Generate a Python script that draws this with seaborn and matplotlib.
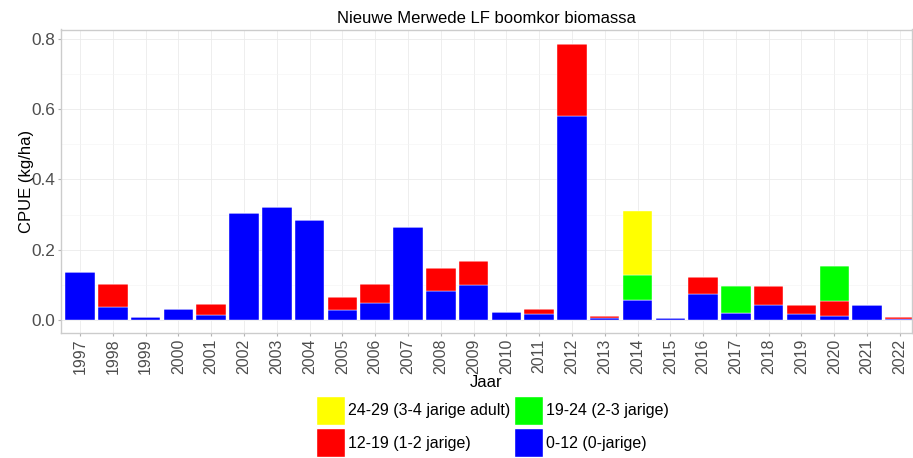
import numpy as np
import pandas as pd
import matplotlib
matplotlib.use("Agg")
import matplotlib.pyplot as plt
from matplotlib.patches import Patch
from matplotlib.ticker import MultipleLocator
import seaborn as sns

# CPUE (kg/ha) per jaar en lengteklasse
jaren = list(range(1997, 2023))
klasse_0_12 = [0.138, 0.036, 0.009, 0.030, 0.014, 0.305, 0.322, 0.286, 0.028, 0.047,
               0.264, 0.083, 0.100, 0.022, 0.017, 0.582, 0.007, 0.057, 0.005, 0.074,
               0.020, 0.042, 0.018, 0.012, 0.042, 0.003]
klasse_12_19 = [0.000, 0.067, 0.000, 0.000, 0.032, 0.000, 0.000, 0.000, 0.037, 0.055,
                0.000, 0.064, 0.068, 0.000, 0.013, 0.205, 0.004, 0.000, 0.000, 0.048,
                0.000, 0.055, 0.024, 0.042, 0.000, 0.006]
klasse_19_24 = [0.000, 0.000, 0.000, 0.000, 0.000, 0.000, 0.000, 0.000, 0.000, 0.000,
                0.000, 0.000, 0.000, 0.000, 0.000, 0.000, 0.000, 0.070, 0.000, 0.000,
                0.076, 0.000, 0.000, 0.099, 0.000, 0.000]
klasse_24_29 = [0.000, 0.000, 0.000, 0.000, 0.000, 0.000, 0.000, 0.000, 0.000, 0.000,
                0.000, 0.000, 0.000, 0.000, 0.000, 0.000, 0.000, 0.183, 0.000, 0.000,
                0.000, 0.000, 0.000, 0.000, 0.000, 0.000]

labels = ["24-29 (3-4 jarige adult)", "19-24 (2-3 jarige)",
          "12-19 (1-2 jarige)", "0-12 (0-jarige)"]
kleuren = ["#ffff00", "#00ff00", "#ff0000", "#0000ff"]

df = pd.concat([
    pd.DataFrame({"Jaar": jaren, "klasse": labels[0], "cpue": klasse_24_29}),
    pd.DataFrame({"Jaar": jaren, "klasse": labels[1], "cpue": klasse_19_24}),
    pd.DataFrame({"Jaar": jaren, "klasse": labels[2], "cpue": klasse_12_19}),
    pd.DataFrame({"Jaar": jaren, "klasse": labels[3], "cpue": klasse_0_12}),
])

plt.rcParams["font.family"] = ["Liberation Sans", "DejaVu Sans"]

fig = plt.figure(figsize=(9.13, 4.58), dpi=100)
ax = fig.add_axes([61 / 913, 1 - 333 / 458, (912 - 61) / 913, (333 - 29.5) / 458])

sns.histplot(data=df, x="Jaar", hue="klasse", weights="cpue", multiple="stack",
             discrete=True, shrink=0.9, hue_order=labels, palette=kleuren,
             alpha=1, edgecolor="white", linewidth=0.3, legend=False, ax=ax)

ax.set_xlim(1997 - 0.58, 2022 + 0.37)
ax.set_ylim(-0.037, 0.827)
ax.set_xticks(jaren)
ax.set_xticklabels([str(j) for j in jaren], rotation=90, va="top")
ax.yaxis.set_major_locator(MultipleLocator(0.2))
ax.yaxis.set_minor_locator(MultipleLocator(0.1))
ax.set_yticks([0, 0.2, 0.4, 0.6, 0.8])
ax.set_yticklabels(["0.0", "0.2", "0.4", "0.6", "0.8"])

ax.set_axisbelow(True)
ax.grid(True, which="major", color="#ebebeb", linewidth=0.6)
ax.grid(True, which="minor", axis="y", color="#f4f4f4", linewidth=0.4)
for s in ax.spines.values():
    s.set_color("#cccccc")
    s.set_linewidth(1.0)
ax.tick_params(axis="both", which="major", length=2.5, color="#b3b3b3",
               labelcolor="#4d4d4d", pad=1.5)
ax.tick_params(axis="x", labelsize=11.4)
ax.tick_params(axis="y", labelsize=12.4)
ax.tick_params(axis="y", which="minor", length=0)

ax.set_title("Nieuwe Merwede LF boomkor biomassa", fontsize=12, color="black", pad=5)
ax.set_ylabel("CPUE (kg/ha)", fontsize=12, color="black", labelpad=-1.5)
ax.set_xlabel("Jaar", fontsize=12, color="black", labelpad=1)

handles = [Patch(facecolor=kleuren[i], edgecolor="white", label=labels[i]) for i in [0, 2, 1, 3]]
fig.legend(handles=handles, loc="upper left", bbox_to_anchor=(316 / 913, 1 - 396 / 458),
           ncol=2, frameon=False, fontsize=11.5, handlelength=1.82, handleheight=2.42,
           handletextpad=0.2, columnspacing=0.2, labelspacing=0.2, borderpad=0,
           borderaxespad=0)

fig.savefig("out.png", dpi=100)
